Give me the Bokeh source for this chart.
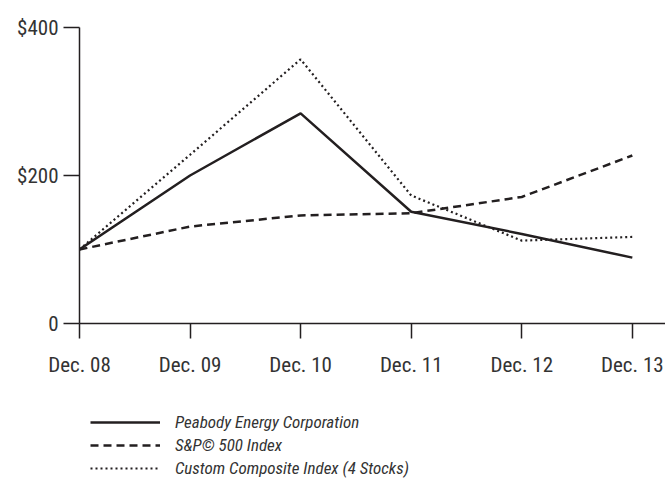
from bokeh.plotting import figure
from bokeh.layouts import column
from bokeh.models import Legend, LegendItem, FixedTicker, Range1d
from bokeh.embed import file_html
from bokeh.resources import INLINE

years = ["Dec. 08", "Dec. 09", "Dec. 10", "Dec. 11", "Dec. 12", "Dec. 13"]
peabody = [100, 200, 284, 151, 121, 89]
sp500 = [100, 131, 146, 149, 171, 227]
custom = [100, 228, 357, 173, 112, 117]
series_names = ["Peabody Energy Corporation", "S&P\u00a9 500 Index", "Custom Composite Index (4 Stocks)"]
y_ticks = [0, 200, 400]
y_labels = {0: "0", 200: "$200", 400: "$400"}

FONT = "Liberation Sans Narrow, Roboto Condensed, Arial Narrow, sans-serif"
INK = "#231f20"
TXT = "#333333"
xs = list(range(len(years)))
all_series = [peabody, sp500, custom]
styles = [dict(line_width=2.5), dict(line_width=2.5, line_dash="8 5"), dict(line_width=2.2, line_dash="2 3")]

# ---- main chart ----
p1 = figure(width=665, height=390, output_backend="svg", toolbar_location=None,
            x_range=Range1d(0, 5.3), y_range=Range1d(0, 400),
            min_border_left=79, min_border_right=0, min_border_top=27, min_border_bottom=67)
p1.outline_line_color = None
p1.grid.visible = False

for data, st in zip(all_series, styles):
    p1.line(xs, data, line_color=INK, **st)

xa = p1.xaxis[0]
xa.ticker = FixedTicker(ticks=xs)
xa.major_label_overrides = {i: t for i, t in enumerate(years)}
xa.major_tick_out = 15
xa.major_tick_in = 0
xa.minor_tick_out = 0
xa.minor_tick_in = 0
xa.axis_line_color = INK
xa.axis_line_width = 1.5
xa.major_tick_line_color = INK
xa.major_tick_line_width = 1.5
xa.major_label_text_font = FONT
xa.major_label_text_font_size = "21px"
xa.major_label_text_color = TXT
xa.major_label_standoff = 14

ya = p1.yaxis[0]
ya.ticker = FixedTicker(ticks=y_ticks)
ya.major_label_overrides = y_labels
ya.bounds = (0, 400)
ya.major_tick_out = 16
ya.major_tick_in = 0
ya.minor_tick_out = 0
ya.minor_tick_in = 0
ya.axis_line_color = INK
ya.axis_line_width = 1.5
ya.major_tick_line_color = INK
ya.major_tick_line_width = 1.5
ya.major_label_text_font = FONT
ya.major_label_text_font_size = "21px"
ya.major_label_text_color = TXT
ya.major_label_standoff = 5

# ---- legend strip below the chart (frame is aligned with the chart frame) ----
p2 = figure(width=665, height=90, output_backend="svg", toolbar_location=None,
            x_axis_location=None, y_axis_location=None,
            x_range=Range1d(0, 1), y_range=Range1d(0, 1),
            min_border_left=79, min_border_right=0, min_border_top=0, min_border_bottom=0)
p2.outline_line_color = None
p2.grid.visible = False

# one-point lines: they draw nothing in the strip, but give the legend its samples
legend_renderers = [p2.line(xs[:1], data[:1], line_color=INK, **st)
                    for data, st in zip(all_series, styles)]

legend = Legend(items=[LegendItem(label=n, renderers=[r]) for n, r in zip(series_names, legend_renderers)],
                location=(11, 2))
legend.glyph_width = 70
legend.glyph_height = 20
legend.label_height = 20
legend.spacing = 3
legend.padding = 0
legend.margin = 0
legend.label_standoff = 15
legend.border_line_color = None
legend.background_fill_alpha = 0
legend.label_text_font = FONT
legend.label_text_font_style = "italic"
legend.label_text_font_size = "17px"
legend.label_text_color = TXT
p2.add_layout(legend, "center")

layout = column(p1, p2, spacing=0)
open("out.html", "w").write(file_html(layout, INLINE))
